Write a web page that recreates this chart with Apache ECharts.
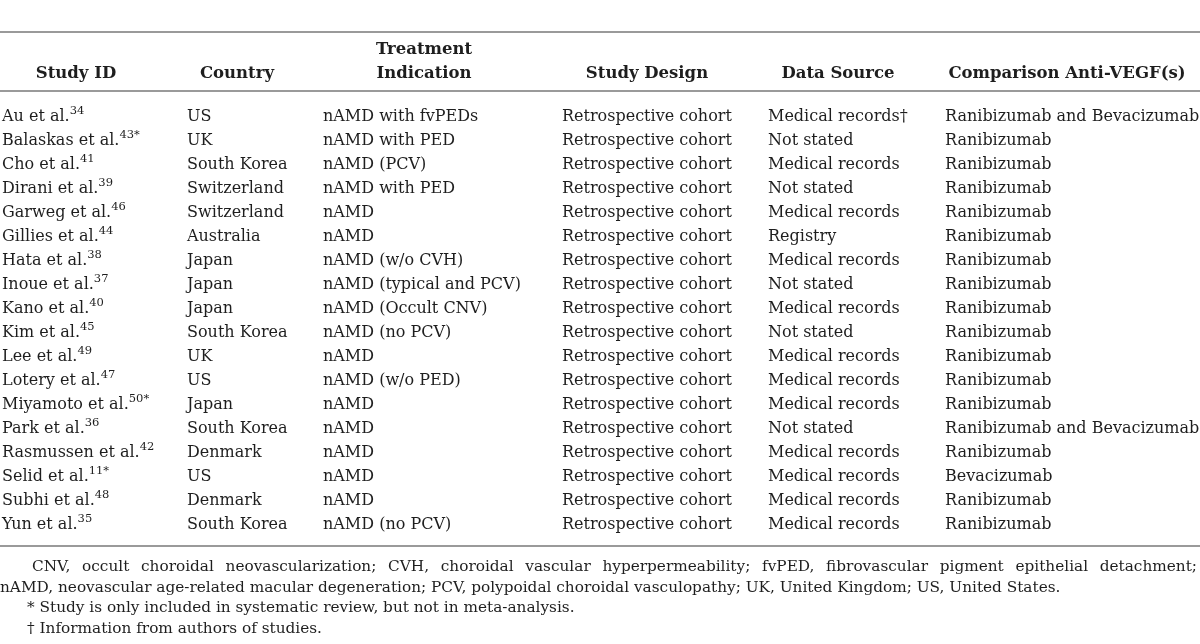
<!DOCTYPE html>
<html>
<head>
<meta charset="utf-8">
<script src="https://cdn.jsdelivr.net/npm/echarts@6/dist/echarts.min.js"></script>
<style>html,body{margin:0;padding:0;background:#fff}#main{width:1200px;height:644px}</style>
</head>
<body>
<div id="main"></div>
<script>
const headers = ['Study ID', 'Country', 'Treatment\nIndication', 'Study Design', 'Data Source', 'Comparison Anti-VEGF(s)'];
const studyIds = ['Au et al.', 'Balaskas et al.', 'Cho et al.', 'Dirani et al.', 'Garweg et al.', 'Gillies et al.', 'Hata et al.', 'Inoue et al.', 'Kano et al.', 'Kim et al.', 'Lee et al.', 'Lotery et al.', 'Miyamoto et al.', 'Park et al.', 'Rasmussen et al.', 'Selid et al.', 'Subhi et al.', 'Yun et al.'];
const refs = ['34', '43*', '41', '39', '46', '44', '38', '37', '40', '45', '49', '47', '50*', '36', '42', '11*', '48', '35'];
const countries = ['US', 'UK', 'South Korea', 'Switzerland', 'Switzerland', 'Australia', 'Japan', 'Japan', 'Japan', 'South Korea', 'UK', 'US', 'Japan', 'South Korea', 'Denmark', 'US', 'Denmark', 'South Korea'];
const indications = ['nAMD with fvPEDs', 'nAMD with PED', 'nAMD (PCV)', 'nAMD with PED', 'nAMD', 'nAMD', 'nAMD (w/o CVH)', 'nAMD (typical and PCV)', 'nAMD (Occult CNV)', 'nAMD (no PCV)', 'nAMD', 'nAMD (w/o PED)', 'nAMD', 'nAMD', 'nAMD', 'nAMD', 'nAMD', 'nAMD (no PCV)'];
const designs = ['Retrospective cohort', 'Retrospective cohort', 'Retrospective cohort', 'Retrospective cohort', 'Retrospective cohort', 'Retrospective cohort', 'Retrospective cohort', 'Retrospective cohort', 'Retrospective cohort', 'Retrospective cohort', 'Retrospective cohort', 'Retrospective cohort', 'Retrospective cohort', 'Retrospective cohort', 'Retrospective cohort', 'Retrospective cohort', 'Retrospective cohort', 'Retrospective cohort'];
const sources = ['Medical records†', 'Not stated', 'Medical records', 'Not stated', 'Medical records', 'Registry', 'Medical records', 'Not stated', 'Medical records', 'Not stated', 'Medical records', 'Medical records', 'Medical records', 'Not stated', 'Medical records', 'Medical records', 'Medical records', 'Medical records'];
const comparisons = ['Ranibizumab and Bevacizumab', 'Ranibizumab', 'Ranibizumab', 'Ranibizumab', 'Ranibizumab', 'Ranibizumab', 'Ranibizumab', 'Ranibizumab', 'Ranibizumab', 'Ranibizumab', 'Ranibizumab', 'Ranibizumab', 'Ranibizumab', 'Ranibizumab and Bevacizumab', 'Ranibizumab', 'Bevacizumab', 'Ranibizumab', 'Ranibizumab'];
const footnotes = [
  'CNV, occult choroidal neovascularization; CVH, choroidal vascular hyperpermeability; fvPED, fibrovascular pigment epithelial detachment;',
  'nAMD, neovascular age-related macular degeneration; PCV, polypoidal choroidal vasculopathy; UK, United Kingdom; US, United States.',
  '* Study is only included in systematic review, but not in meta-analysis.',
  '† Information from authors of studies.'
];

// layout
const FONT_FAMILY = '"DejaVu Serif", serif';
const BODY_SIZE = 16;
const HEAD_SIZE = 16.5;
const NOTE_SIZE = 15.3;
const TEXT_COLOR = '#1e1e1e';
const RULE_COLOR = '#9a9a9a';
const colLeft = [2, 187, 323, 562, 768, 945];
const headerCenter = [76, 237, 424, 647, 838, 1067];
const gridTop = 105, rowH = 24;

const columns = [studyIds, countries, indications, designs, sources, comparisons];
const rows = studyIds.map((s, i) => [i]);

const chart = echarts.init(document.getElementById('main'), null, {renderer: 'canvas'});

const ctx = document.createElement('canvas').getContext('2d');
function measure(t, size) { ctx.font = size + 'px ' + FONT_FAMILY; return ctx.measureText(t).width; }

const graphics = [];
// rules
[32, 91, 546].forEach(y => graphics.push({type: 'line', shape: {x1: 0, y1: y, x2: 1200, y2: y}, style: {stroke: RULE_COLOR, lineWidth: 2}, silent: true}));
// headers
headers.forEach((h, j) => {
  const lines = h.split('\n');
  lines.forEach((ln, k) => {
    const y = 74 - (lines.length - 1 - k) * 24;
    graphics.push({type: 'text', x: headerCenter[j], y: y, style: {text: ln, font: 'bold ' + HEAD_SIZE + 'px ' + FONT_FAMILY, fill: TEXT_COLOR, textAlign: 'center', textVerticalAlign: 'middle'}});
  });
});
// footnotes
const noteY = [567, 588, 608, 629];
const noteX = [32, 0, 27, 27];
footnotes.forEach((t, k) => {
  const sz = NOTE_SIZE;
  if (k === 0) {
    const words = t.split(' ');
    const total = words.reduce((a, w) => a + measure(w, sz), 0);
    const gap = (1197 - noteX[0] - total) / (words.length - 1);
    let x = noteX[0];
    words.forEach(w => {
      graphics.push({type: 'text', x: x, y: noteY[k], style: {text: w, font: sz + 'px ' + FONT_FAMILY, fill: TEXT_COLOR, textAlign: 'left', textVerticalAlign: 'middle'}});
      x += measure(w, sz) + gap;
    });
  } else {
    graphics.push({type: 'text', x: noteX[k], y: noteY[k], style: {text: t, font: sz + 'px ' + FONT_FAMILY, fill: TEXT_COLOR, textAlign: 'left', textVerticalAlign: 'middle'}});
  }
});

chart.setOption({
  animation: false,
  backgroundColor: '#fff',
  grid: {left: 0, right: 0, top: gridTop, height: rowH * studyIds.length},
  xAxis: {type: 'value', min: 0, max: 1200, show: false},
  yAxis: {type: 'category', data: studyIds, inverse: true, show: false},
  graphic: graphics,
  series: [{
    type: 'custom',
    data: rows,
    encode: {y: 0},
    renderItem: function (params, api) {
      const r = api.value(0);
      const children = columns.map((col, j) => {
        const p = api.coord([colLeft[j], r]);
        const style = {x: p[0], y: p[1], fill: TEXT_COLOR, textAlign: 'left', textVerticalAlign: 'middle', font: BODY_SIZE + 'px ' + FONT_FAMILY};
        if (j === 0) {
          style.text = '{m|' + col[r] + '}{s|' + refs[r] + '}';
          style.rich = {
            m: {fontSize: BODY_SIZE, fontFamily: FONT_FAMILY, lineHeight: 24, fill: TEXT_COLOR},
            s: {fontSize: 11.5, fontFamily: FONT_FAMILY, lineHeight: 12, verticalAlign: 'top', fill: TEXT_COLOR}
          };
        } else {
          style.text = col[r];
        }
        return {type: 'text', style: style};
      });
      return {type: 'group', children: children};
    }
  }]
});
</script>
</body>
</html>
